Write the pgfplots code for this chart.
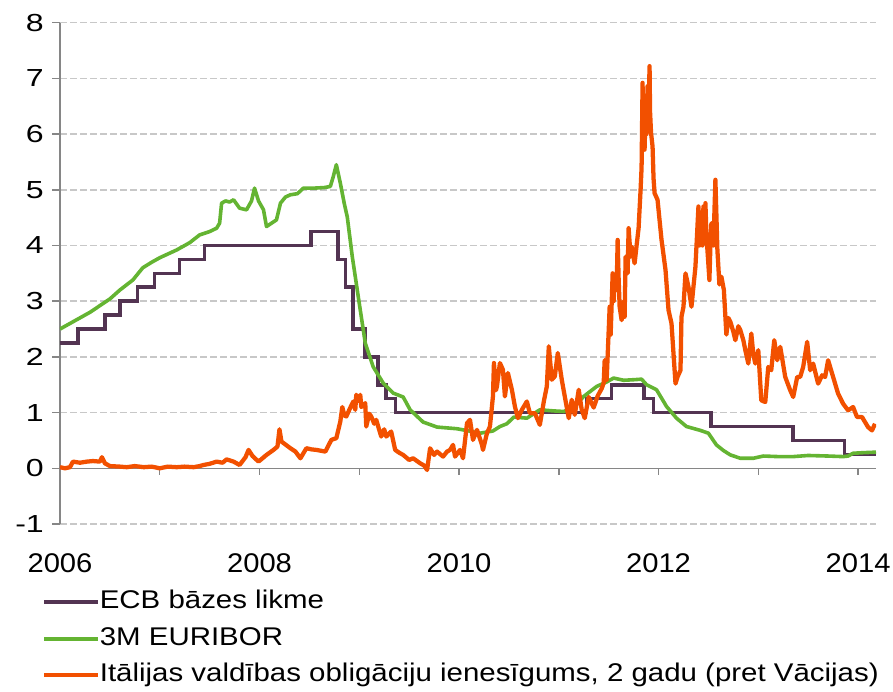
\documentclass[border=0pt]{standalone}
\usepackage{fontspec}
\setmainfont{Liberation Sans}
\newfontfamily\ytfont{Liberation Sans}[FakeStretch=1.3]
\newfontfamily\xtfont{Liberation Sans}[FakeStretch=1.08]
\newfontfamily\lgfont{Liberation Sans}[FakeStretch=1.15]
\usepackage{pgfplots}
\usepackage{pgfplotstable}
\pgfplotsset{compat=1.18}
\definecolor{ecb}{RGB}{83,52,82}
\definecolor{eur}{RGB}{100,180,50}
\definecolor{ita}{RGB}{242,80,0}
\definecolor{gridc}{RGB}{200,200,200}
\definecolor{axc}{RGB}{134,134,134}

\pgfplotstableread{
x y
2006.000 2.25
2006.181 2.50
2006.452 2.75
2006.603 3.00
2006.775 3.25
2006.948 3.50
2007.197 3.75
2007.447 4.00
2008.519 4.25
2008.787 3.75
2008.863 3.25
2008.940 2.50
2009.055 2.00
2009.189 1.50
2009.266 1.25
2009.362 1.00
2011.279 1.25
2011.529 1.50
2011.855 1.25
2011.951 1.00
2012.525 0.75
2013.348 0.50
2013.866 0.25
2014.180 0.25
}\ecbdata

\pgfplotstableread{
x y
2006.00 2.50
2006.02 2.52
2006.10 2.60
2006.20 2.70
2006.30 2.80
2006.40 2.92
2006.50 3.04
2006.60 3.20
2006.73 3.38
2006.83 3.60
2006.92 3.70
2007.00 3.78
2007.17 3.92
2007.30 4.05
2007.40 4.19
2007.50 4.25
2007.57 4.31
2007.60 4.40
2007.62 4.76
2007.66 4.80
2007.70 4.78
2007.74 4.82
2007.80 4.67
2007.87 4.64
2007.92 4.80
2007.95 5.03
2007.99 4.80
2008.04 4.64
2008.07 4.34
2008.12 4.40
2008.17 4.46
2008.21 4.76
2008.26 4.87
2008.31 4.91
2008.38 4.93
2008.44 5.03
2008.55 5.03
2008.65 5.04
2008.71 5.06
2008.74 5.24
2008.77 5.45
2008.81 5.12
2008.85 4.75
2008.88 4.51
2008.93 3.80
2008.99 3.08
2009.06 2.25
2009.14 1.82
2009.24 1.53
2009.34 1.35
2009.44 1.28
2009.51 1.05
2009.64 0.83
2009.78 0.74
2009.98 0.71
2010.10 0.67
2010.21 0.63
2010.34 0.67
2010.41 0.75
2010.48 0.80
2010.55 0.92
2010.68 0.90
2010.81 1.05
2010.95 1.03
2011.05 1.02
2011.15 1.10
2011.25 1.29
2011.38 1.47
2011.48 1.55
2011.55 1.62
2011.65 1.58
2011.75 1.59
2011.83 1.60
2011.88 1.50
2011.98 1.41
2012.08 1.11
2012.18 0.90
2012.28 0.75
2012.42 0.68
2012.50 0.63
2012.58 0.42
2012.65 0.32
2012.72 0.24
2012.82 0.18
2012.95 0.18
2013.05 0.22
2013.20 0.21
2013.35 0.21
2013.50 0.23
2013.70 0.22
2013.85 0.21
2013.90 0.22
2013.95 0.27
2014.05 0.28
2014.18 0.29
}\eurdata

\pgfplotstableread{
x y
2006.00 0.02
2006.05 0.00
2006.10 0.02
2006.13 0.12
2006.20 0.10
2006.27 0.12
2006.33 0.13
2006.40 0.12
2006.42 0.20
2006.45 0.09
2006.50 0.04
2006.60 0.03
2006.67 0.02
2006.75 0.04
2006.84 0.02
2006.92 0.03
2007.00 0.00
2007.08 0.03
2007.17 0.02
2007.25 0.03
2007.34 0.02
2007.40 0.04
2007.44 0.06
2007.50 0.08
2007.57 0.12
2007.63 0.10
2007.67 0.16
2007.74 0.12
2007.80 0.06
2007.86 0.20
2007.89 0.33
2007.93 0.22
2007.99 0.12
2008.07 0.24
2008.14 0.33
2008.18 0.39
2008.20 0.70
2008.22 0.48
2008.31 0.36
2008.36 0.30
2008.41 0.18
2008.47 0.36
2008.52 0.34
2008.57 0.33
2008.66 0.30
2008.72 0.51
2008.77 0.54
2008.81 0.84
2008.83 1.10
2008.85 0.95
2008.87 0.93
2008.90 1.05
2008.94 1.20
2008.96 1.05
2008.97 1.32
2009.00 1.20
2009.01 1.32
2009.02 1.10
2009.06 1.17
2009.07 0.75
2009.10 0.98
2009.12 0.93
2009.15 0.80
2009.17 0.87
2009.22 0.57
2009.25 0.70
2009.27 0.57
2009.32 0.66
2009.36 0.33
2009.40 0.28
2009.44 0.24
2009.50 0.15
2009.54 0.18
2009.61 0.09
2009.65 0.05
2009.68 -0.03
2009.71 0.36
2009.75 0.24
2009.78 0.30
2009.84 0.21
2009.88 0.30
2009.91 0.33
2009.94 0.42
2009.96 0.21
2010.01 0.33
2010.04 0.18
2010.08 0.81
2010.11 0.87
2010.14 0.51
2010.18 0.69
2010.23 0.42
2010.24 0.33
2010.28 0.63
2010.31 0.75
2010.34 1.29
2010.35 1.89
2010.37 1.40
2010.38 1.47
2010.41 1.89
2010.44 1.77
2010.46 1.29
2010.49 1.71
2010.53 1.41
2010.56 1.11
2010.59 0.90
2010.63 1.05
2010.68 1.20
2010.71 0.99
2010.76 0.99
2010.81 0.78
2010.85 1.20
2010.88 1.47
2010.90 2.19
2010.93 1.59
2010.96 1.65
2010.99 2.07
2011.03 1.59
2011.06 1.29
2011.10 0.90
2011.13 1.23
2011.16 0.96
2011.20 1.41
2011.23 1.05
2011.26 0.90
2011.30 1.28
2011.35 1.09
2011.39 1.30
2011.43 1.43
2011.45 1.53
2011.46 1.94
2011.48 1.58
2011.51 2.90
2011.52 2.40
2011.54 3.50
2011.55 3.00
2011.56 3.38
2011.58 3.20
2011.59 4.10
2011.60 3.40
2011.61 2.90
2011.63 2.66
2011.65 3.00
2011.66 2.72
2011.67 3.80
2011.69 3.50
2011.70 4.31
2011.72 3.80
2011.73 3.98
2011.76 3.68
2011.78 4.00
2011.80 4.31
2011.82 5.00
2011.83 5.40
2011.84 6.92
2011.845 6.00
2011.85 6.70
2011.86 5.72
2011.87 6.40
2011.88 6.00
2011.89 6.86
2011.90 6.40
2011.91 7.22
2011.915 6.40
2011.925 6.02
2011.94 5.78
2011.95 5.20
2011.96 4.94
2011.99 4.82
2012.03 4.10
2012.07 3.56
2012.10 2.84
2012.13 2.60
2012.17 1.52
2012.19 1.64
2012.22 1.76
2012.23 2.72
2012.25 2.90
2012.27 3.50
2012.30 3.26
2012.33 2.90
2012.37 3.62
2012.40 4.70
2012.41 4.00
2012.42 4.60
2012.43 4.58
2012.44 4.00
2012.45 4.70
2012.46 4.10
2012.47 4.76
2012.48 4.20
2012.49 3.92
2012.51 3.38
2012.52 4.00
2012.53 4.40
2012.55 4.00
2012.57 5.18
2012.59 3.92
2012.61 3.30
2012.63 3.44
2012.655 3.20
2012.67 2.72
2012.68 2.40
2012.70 2.70
2012.72 2.63
2012.75 2.45
2012.77 2.30
2012.80 2.55
2012.82 2.48
2012.85 2.30
2012.87 2.12
2012.90 1.88
2012.93 2.42
2012.95 2.05
2012.97 1.88
2013.00 2.12
2013.03 1.22
2013.07 1.19
2013.10 1.82
2013.13 1.76
2013.16 2.30
2013.19 1.94
2013.22 2.18
2013.27 1.64
2013.32 1.40
2013.35 1.28
2013.39 1.64
2013.42 1.64
2013.45 1.82
2013.49 2.27
2013.52 1.76
2013.55 1.88
2013.60 1.52
2013.64 1.67
2013.67 1.64
2013.70 1.94
2013.74 1.70
2013.77 1.52
2013.80 1.34
2013.85 1.16
2013.90 1.04
2013.95 1.10
2013.99 0.92
2014.04 0.92
2014.07 0.83
2014.10 0.74
2014.14 0.68
2014.17 0.80
}\itadata

\begin{document}
\begin{tikzpicture}
\useasboundingbox (-45pt,-126pt) rectangle (624.75pt,393pt);
\begin{axis}[
  at={(0,0)}, anchor=south west,
  scale only axis, width=612pt, height=376pt,
  xmin=2006, xmax=2014.18, ymin=-1, ymax=8,
  axis lines*=left,
  x axis line style={draw=none},
  y axis line style={draw=axc, line width=1.1pt},
  xtick={2006,2008,2010,2012,2014},
  xticklabels={2006,2008,2010,2012,2014},
  xtick style={draw=none},
  ytick={-1,0,...,8},
  yticklabels={-1,0,1,2,3,4,5,6,7,8},
  ytick style={draw=axc, line width=1.1pt},
  ytick align=outside, major tick length=6pt,
  xticklabel style={font=\xtfont\fontsize{20.25pt}{24pt}\selectfont, anchor=north, inner sep=0pt, yshift=-21.75pt},
  yticklabel style={font=\ytfont\fontsize{18.5pt}{22pt}\selectfont, anchor=east, inner sep=0pt, xshift=-6pt},
  ymajorgrids,
  grid style={draw=gridc, line width=1.1pt, dash pattern=on 5pt off 2.5pt},
  clip=true,
  legend cell align=left,
  legend image code/.code={\draw[#1] (0pt,0pt) -- (40pt,0pt);},
  legend style={at={(axis description cs:-0.0221,-0.1316)}, anchor=north west,
    draw=none, fill=none, inner sep=0pt, row sep=9.4pt,
    font=\lgfont\fontsize{19.2pt}{22pt}\selectfont,
    nodes={inner sep=0pt, text height=14pt, text depth=4pt},
    /tikz/every even column/.append style={column sep=3.75pt}},
]
\draw[axc, line width=1.1pt] (axis cs:2006,0) -- (axis cs:2014.18,0);
\pgfplotsinvokeforeach{2007,...,2014}{\draw[axc, line width=1.1pt] (axis cs:#1,0) -- ++(0pt,-5pt);}
\addplot[const plot, ecb, line width=2.7pt] table[x=x,y=y] {\ecbdata};
\addlegendentry{ECB bāzes likme}
\addplot[eur, line width=2.7pt, line join=round] table[x=x,y=y] {\eurdata};
\addlegendentry{3M EURIBOR}
\addplot[ita, line width=3.2pt, line join=round] table[x=x,y=y] {\itadata};
\addlegendentry{Itālijas valdības obligāciju ienesīgums, 2 gadu (pret Vācijas)}
\end{axis}
\end{tikzpicture}
\end{document}
